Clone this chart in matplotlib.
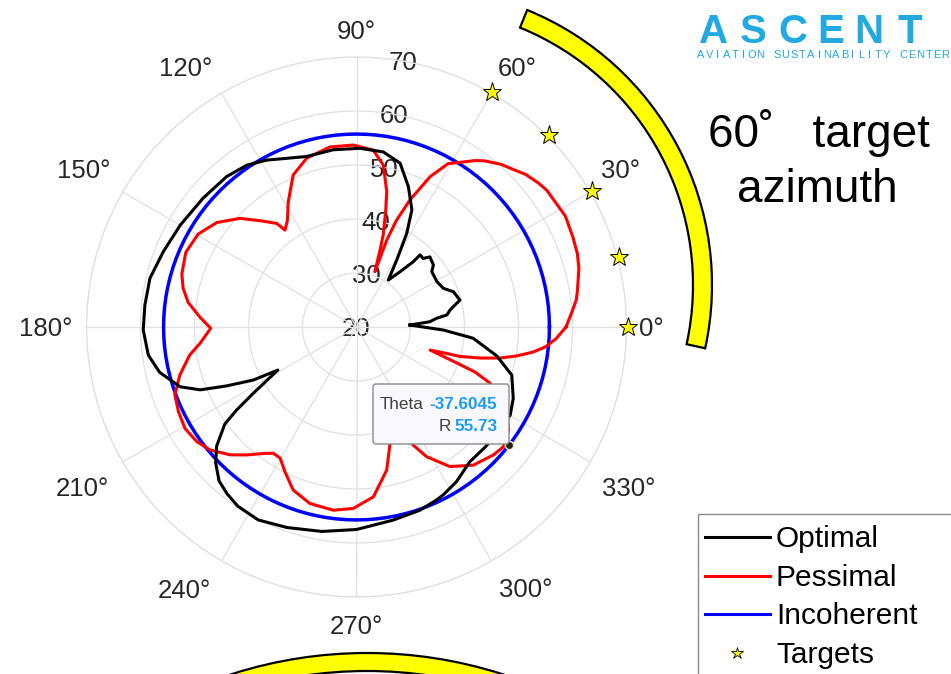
import numpy as np
import matplotlib
matplotlib.use("Agg")
import matplotlib.pyplot as plt
from matplotlib.patches import Wedge, Rectangle, FancyBboxPatch

plt.rcParams['font.family'] = ['Liberation Sans', 'DejaVu Sans']

# ---- beam patterns (azimuth in degrees, level) ----
optimal_theta = [2.1, 4.1, 6.2, 7.6, 10.3, 12.6, 14.6, 20.0, 24.0, 29.5, 36.3, 38.9,
                 43.7, 45.8, 48.6, 49.0, 51.8, 55.9, 59.0, 61.8, 64.7, 69.7, 75.1,
                 81.3, 88.9, 97.5, 106.3, 113.0, 118.3, 124.1, 130.8, 140.0, 150.0,
                 158.7, 166.7, 174.1, 180.8, 187.7, 193.0, 198.7, 201.9, 204.4, 207.2,
                 208.7, 212.7, 214.7, 216.4, 220.4, 223.9, 228.2, 232.2, 236.5, 243.0,
                 250.9, 260.4, 270.0, 280.8, 289.1, 294.8, 297.3, 302.9, 310.1, 317.0,
                 324.3, 330.2, 335.5, 342.8, 348.4, 354.5, 358.0, 362.1]
optimal_r = [29.9, 33.6, 34.9, 36.9, 37.6, 38.7, 39.8, 39.1, 37.6, 37.1, 37.3, 38.3,
             38.8, 37.7, 37.8, 36.0, 33.0, 30.5, 34.5, 39.7, 44.0, 47.7, 51.4,
             52.8, 53.1, 53.1, 52.9, 53.9, 55.1, 56.2, 56.8, 57.1, 57.7,
             58.4, 59.3, 59.4, 59.5, 58.9, 57.4, 54.5, 51.2, 46.4, 41.5,
             36.6, 42.7, 47.0, 50.3, 54.0, 56.2, 58.2, 59.1, 59.8, 60.1,
             59.3, 58.4, 57.5, 56.4, 55.9, 55.3, 55.0, 54.1, 52.6, 52.6,
             52.7, 52.8, 51.9, 50.1, 46.5, 41.7, 36.1, 29.9]

pessimal_theta = [0.0, 4.0, 7.0, 9.0, 14.8, 18.4, 22.6, 28.0, 35.6, 38.2, 42.0, 45.0,
                  48.4, 52.5, 54.6, 57.1, 60.7, 63.9, 67.2, 69.5, 70.8, 71.6, 73.0,
                  73.8, 75.8, 77.4, 80.6, 84.6, 91.0, 98.4, 106.4, 112.6, 118.6,
                  123.0, 126.4, 127.6, 131.7, 137.0, 143.2, 149.6, 156.4, 163.1, 167.4,
                  171.7, 176.5, 180.5, 185.9, 189.5, 195.2, 200.5, 205.4, 210.6, 215.7,
                  220.0, 225.3, 229.4, 233.6, 236.6, 239.8, 243.7, 248.8, 255.2, 262.8,
                  269.0, 275.7, 281.9, 285.8, 288.5, 291.0, 293.5, 295.6, 298.4, 303.8,
                  310.2, 316.9, 320.8, 326.0, 331.0, 334.5, 337.2, 339.2, 340.4, 342.6,
                  343.6, 344.1, 345.9, 347.8, 349.8, 351.9, 353.9, 356.6, 360.0]
pessimal_r = [58.8, 60.0, 61.0, 61.4, 62.6, 63.1, 63.4, 63.8, 63.4, 63.0, 62.2, 61.2,
              60.3, 58.8, 57.8, 56.4, 54.7, 51.0, 45.5, 41.0, 37.0, 30.8, 35.0,
              37.7, 42.0, 45.7, 50.4, 52.9, 53.7, 53.7, 52.6, 50.5, 46.4,
              43.5, 42.3, 44.2, 46.3, 49.5, 52.3, 54.0, 54.5, 53.8, 52.9,
              51.5, 49.0, 47.0, 49.1, 51.3, 53.9, 55.9, 56.5, 56.9, 56.4,
              55.4, 53.3, 51.2, 49.1, 48.0, 48.1, 49.9, 52.4, 53.8, 54.2,
              53.6, 51.6, 47.1, 42.7, 38.0, 33.0, 39.0, 44.2, 47.3, 51.1,
              53.5, 54.7, 55.1, 54.0, 51.5, 49.0, 46.8, 43.5, 39.4, 34.3,
              37.1, 39.9, 43.6, 47.2, 50.2, 53.0, 55.1, 57.0, 58.8]

incoherent_theta = np.arange(0, 361, 3)
incoherent_level = 55.73

targets_theta = [0, 15, 30, 45, 60]
targets_r = [70.3, 70.3, 70.3, 70.3, 70.3]

tip_theta = -37.6045
tip_r = 55.73

theta_ticks = [0, 30, 60, 90, 120, 150, 180, 210, 240, 270, 300, 330]
r_ticks = [20, 30, 40, 50, 60, 70]

series_names = ["Optimal", "Pessimal", "Incoherent", "Targets"]

# ---- figure ----
W, H = 951, 674
fig = plt.figure(figsize=(W / 100, H / 100), dpi=100)
fig.patch.set_facecolor("white")

R_PX = 270.0
PX_PER_UNIT = R_PX / 50.0
cx, cy = 356.5, 327.0
ax = fig.add_axes([(cx - R_PX) / W, (H - cy - R_PX) / H, 2 * R_PX / W, 2 * R_PX / H],
                  projection="polar")
ax.set_theta_zero_location("E")
ax.set_theta_direction(1)
ax.set_rlim(20, 70)
ax.set_thetagrids(theta_ticks, labels=[])
ax.set_rgrids(r_ticks[1:], labels=[])
ax.grid(True, color="#e0e0e0", linewidth=0.9)
ax.spines["polar"].set_color("#e0e0e0")
ax.spines["polar"].set_linewidth(0.9)
ax.tick_params(length=0)
ax.set_facecolor("white")

grid_text = "#262626"
TICK_FS = 18.5
cap_half = 0.716 * TICK_FS / 2  # points, to centre digits vertically


def centred_label(txt, ang_deg, r_val):
    ax.annotate(txt, xy=(np.deg2rad(ang_deg), r_val), xytext=(0, -cap_half),
                textcoords="offset points", ha="center", va="baseline",
                fontsize=TICK_FS, color=grid_text, annotation_clip=False, zorder=1)


# radial tick labels along the 80 degree ray
for rv in r_ticks:
    centred_label(str(rv), 80 if rv > 20 else 0, rv)

# angular tick labels: (direction, distance from centre in px)
theta_label_pos = [(0, 295), (31.0, 308), (58.3, 306), (90.1, 297), (123.3, 311),
                   (149.9, 315), (180, 311), (210.2, 317), (236.7, 313), (270, 298),
                   (302.9, 311), (329.6, 316)]
for ang, (pa, pd) in zip(theta_ticks, theta_label_pos):
    centred_label(f"{ang}°", pa, 20 + pd / PX_PER_UNIT)

ax.plot(np.deg2rad(incoherent_theta), np.full(len(incoherent_theta), incoherent_level),
        color="#0000ff", lw=2.5, zorder=3)
ax.plot(np.deg2rad(pessimal_theta), pessimal_r, color="#ff0000", lw=2.2, zorder=4,
        solid_joinstyle="round")
ax.plot(np.deg2rad(optimal_theta), optimal_r, color="black", lw=2.2, zorder=5,
        solid_joinstyle="round")
ax.plot(np.deg2rad(targets_theta), targets_r, linestyle="none", marker="*",
        markersize=14, markerfacecolor="#ffff00", markeredgecolor="black",
        markeredgewidth=0.7, clip_on=False, zorder=6)
ax.plot(np.deg2rad(tip_theta), tip_r, marker="o", markersize=6,
        markerfacecolor="#222222", markeredgecolor="#f3f0c0", markeredgewidth=1.0,
        zorder=8, clip_on=False)

# ---- overlay in pixel coordinates ----
ov = fig.add_axes([0, 0, 1, 1], zorder=10)
ov.set_xlim(0, W)
ov.set_ylim(H, 0)
ov.axis("off")
ov.patch.set_alpha(0)

# yellow arcs
ov.add_patch(Wedge((415, 285), 297, -67.8, 12.3, width=19, facecolor="#ffff00",
                   edgecolor="black", linewidth=1.6))
ov.add_patch(Wedge((367, 1097), 444, -125, -55, width=18, facecolor="#ffff00",
                   edgecolor="black", linewidth=1.6))

# data tip
ov.add_patch(FancyBboxPatch((373, 384), 136, 60, boxstyle="round,pad=0,rounding_size=3",
                            facecolor="#f8f8fd", edgecolor="#8a8a8a", linewidth=1.0))
ov.text(497.5, 409, f"{tip_theta:.4f}", ha="right", va="baseline", fontsize=12.3,
        color="#1e9cf5", fontweight="bold")
ov.text(424, 409, "Theta", ha="right", va="baseline", fontsize=12.3, color="#404040")
ov.text(497.5, 431, f"{tip_r:.2f}", ha="right", va="baseline", fontsize=12.3,
        color="#1e9cf5", fontweight="bold")
ov.text(450.5, 431, "R", ha="right", va="baseline", fontsize=12.3, color="#404040")

# logo
logo_blue = "#22a9e1"
for ch, x in zip("ASCENT", [713.5, 753, 793, 831, 869, 910]):
    ov.text(x, 43, ch, ha="center", va="baseline", fontsize=29, color=logo_blue,
            fontweight="bold")
sub = "AVIATION SUSTAINABILITY CENTER"
step = (945.5 - 701.0) / (len(sub) - 1)
for i, ch in enumerate(sub):
    ov.text(701.0 + i * step, 58, ch, ha="center", va="baseline", fontsize=8.0,
            color=logo_blue)

# heading
ov.text(819, 147, "60˚   target", ha="center", va="baseline", fontsize=33, color="black")
ov.text(817, 201.5, "azimuth", ha="center", va="baseline", fontsize=33, color="black")

# legend
ov.add_patch(Rectangle((697.5, 513.5), 300, 200, facecolor="white",
                       edgecolor="#8c8c8c", linewidth=1.0))
leg_rows = [537.3, 576, 614.3, 653.3]
leg_colors = ["black", "#ff0000", "#0000ff"]
for y, c in zip(leg_rows[:3], leg_colors):
    ov.plot([705, 770], [y, y], color=c, lw=2.2)
ov.plot([737], [leg_rows[3]], linestyle="none", marker="*", markersize=9,
        markerfacecolor="#ffff00", markeredgecolor="black", markeredgewidth=0.6)
for y, name in zip(leg_rows, series_names):
    ov.text(776, y + 9.5, name, ha="left", va="baseline", fontsize=21.5, color="black")

fig.savefig("out.png", dpi=100, facecolor="white")
